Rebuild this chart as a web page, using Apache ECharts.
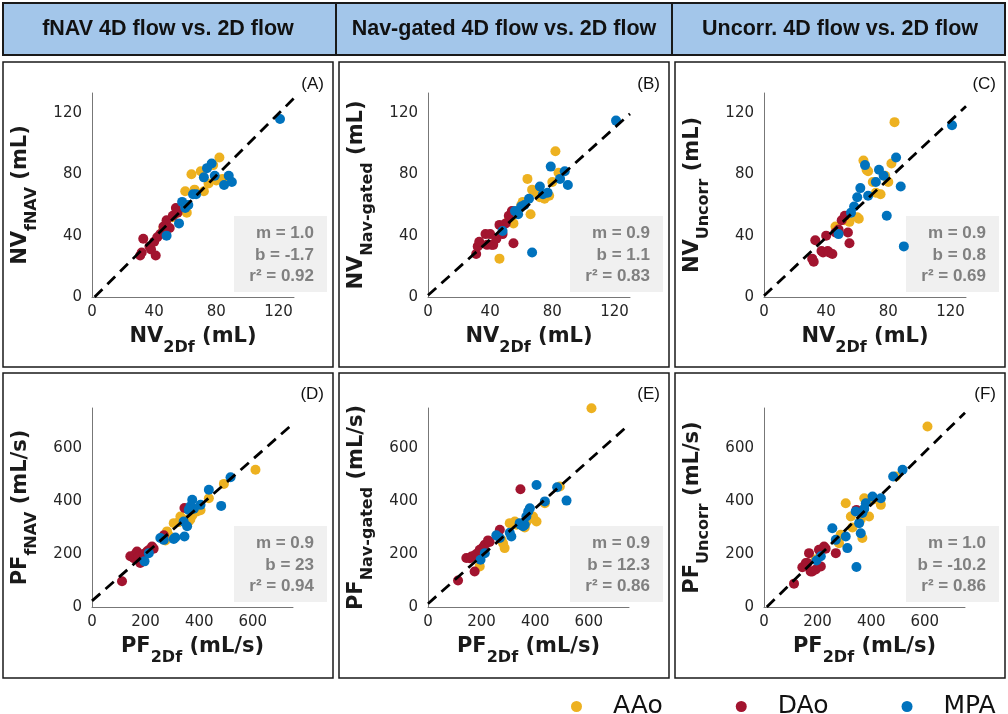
<!DOCTYPE html>
<html><head><meta charset="utf-8">
<script src="https://cdn.jsdelivr.net/npm/echarts@6/dist/echarts.min.js"></script>
<style>html,body{margin:0;padding:0;background:#fff}#c{width:1008px;height:714px}</style>
</head><body><div id="c"></div>
<script>
// ---------- labels ----------
const groups = ['AAo', 'DAo', 'MPA'];
const groupColors = ['#EDB120', '#A2142F', '#0072BD'];
const headerTitles = ['fNAV 4D flow vs. 2D flow', 'Nav-gated 4D flow vs. 2D flow', 'Uncorr. 4D flow vs. 2D flow'];
const panelLetters = ['(A)', '(B)', '(C)', '(D)', '(E)', '(F)'];
const yNameMain = ['NV', 'NV', 'NV', 'PF', 'PF', 'PF'];
const yNameSub = ['fNAV', 'Nav-gated', 'Uncorr', 'fNAV', 'Nav-gated', 'Uncorr'];
const xNameMain = ['NV', 'NV', 'NV', 'PF', 'PF', 'PF'];
const xNameSub = ['2Df', '2Df', '2Df', '2Df', '2Df', '2Df'];
const unitNames = ['(mL)', '(mL)', '(mL)', '(mL/s)', '(mL/s)', '(mL/s)'];
const axisMax = [130, 130, 130, 750, 750, 750];
const axisMaxY = [133, 133, 133, 750, 750, 750];
const tickStep = [40, 40, 40, 200, 200, 200];

// ---------- regression stats ----------
const statM = ['1.0', '0.9', '0.9', '0.9', '0.9', '1.0'];
const statB = ['-1.7', '1.1', '0.8', '23', '12.3', '-10.2'];
const statR2 = ['0.92', '0.83', '0.69', '0.94', '0.86', '0.86'];
const lineSlope = [1.01, 0.91, 0.95, 0.89, 0.90, 0.99];
const lineIntercept = [-1.7, 1.1, 0.8, 23, 12.3, -10.2];

// ---------- net volume (mL) ----------
const nv2Df_AAo = [46, 52, 55, 60, 61, 64, 66, 67, 70, 72, 75, 78, 80, 82, 84];
const nvFnav_AAo = [45, 52, 55, 69, 55, 80, 70, 68, 82, 69, 74, 86, 76, 91, 77];
const nvNav_AAo = [25, 50, 48, 60, 62, 77, 54, 70, 68, 65, 64, 66, 75, 95, 81];
const nvUnc_AAo = [46, 50, 49, 52, 51, 89, 83, 82, 75, 68, 67, 79, 75, 87, 114];

const nv2Df_DAo = [31, 32, 33, 37, 38, 40, 41, 42, 44, 46, 48, 50, 52, 54, 55];
const nvFnav_DAo = [27, 29, 38, 33, 31, 36, 27, 39, 41, 46, 50, 45, 53, 58, 55];
const nvNav_DAo = [28, 33, 36, 41, 34, 41, 34, 34, 38, 47, 41, 48, 53, 56, 35];
const nvUnc_DAo = [25, 23, 37, 30, 29, 40, 30, 29, 28, 42, 44, 50, 53, 42, 35];

const nv2Df_MPA = [48, 56, 58, 60, 62, 65, 67, 72, 74, 77, 79, 85, 88, 90, 121];
const nvFnav_MPA = [40, 48, 62, 58, 60, 67, 67, 78, 84, 87, 79, 73, 79, 75, 116];
const nvNav_MPA = [43, 56, 54, 59, 60, 64, 29, 72, 67, 68, 85, 77, 82, 73, 115];
const nvUnc_MPA = [41, 55, 59, 65, 71, 86, 66, 75, 83, 79, 53, 91, 72, 33, 112];

// ---------- peak flow (mL/s) ----------
const pf2Df_AAo = [193, 274, 280, 286, 305, 324, 330, 355, 361, 367, 374, 392, 405, 436, 492, 610];
const pfFnav_AAo = [180, 251, 285, 270, 316, 320, 341, 330, 322, 330, 345, 360, 365, 410, 464, 517];
const pfNav_AAo = [153, 253, 240, 222, 316, 322, 310, 304, 300, 320, 330, 341, 322, 391, 454, 749];
const pfUnc_AAo = [180, 250, 240, 272, 391, 341, 300, 360, 330, 260, 410, 341, 404, 385, 492, 680];

const pf2Df_DAo = [112, 143, 156, 162, 168, 174, 180, 193, 205, 212, 224, 230, 268, 345];
const pfFnav_DAo = [97, 191, 184, 200, 209, 190, 166, 200, 209, 215, 228, 220, 270, 373];
const pfNav_DAo = [100, 185, 184, 190, 191, 134, 200, 216, 225, 235, 251, 245, 291, 444];
const pfUnc_DAo = [88, 150, 166, 166, 203, 134, 134, 141, 216, 153, 228, 220, 203, 366];

const pf2Df_MPA = [196, 212, 255, 268, 305, 311, 342, 345, 355, 361, 367, 374, 380, 405, 436, 482, 517];
const pfFnav_MPA = [172, 203, 260, 253, 256, 262, 322, 266, 304, 366, 380, 404, 370, 385, 442, 381, 489];
const pfNav_MPA = [178, 203, 270, 260, 280, 266, 316, 310, 304, 310, 341, 360, 372, 460, 398, 451, 401];
const pfUnc_MPA = [175, 191, 297, 253, 266, 222, 360, 151, 316, 278, 354, 370, 391, 416, 410, 492, 517];

const panelX = [
  [nv2Df_AAo, nv2Df_DAo, nv2Df_MPA], [nv2Df_AAo, nv2Df_DAo, nv2Df_MPA], [nv2Df_AAo, nv2Df_DAo, nv2Df_MPA],
  [pf2Df_AAo, pf2Df_DAo, pf2Df_MPA], [pf2Df_AAo, pf2Df_DAo, pf2Df_MPA], [pf2Df_AAo, pf2Df_DAo, pf2Df_MPA]
];
const panelY = [
  [nvFnav_AAo, nvFnav_DAo, nvFnav_MPA], [nvNav_AAo, nvNav_DAo, nvNav_MPA], [nvUnc_AAo, nvUnc_DAo, nvUnc_MPA],
  [pfFnav_AAo, pfFnav_DAo, pfFnav_MPA], [pfNav_AAo, pfNav_DAo, pfNav_MPA], [pfUnc_AAo, pfUnc_DAo, pfUnc_MPA]
];

// ---------- layout ----------
const COL_STEP = 336, ROW_STEP = 310;
const labelFont = 'DejaVu Sans';
const helv = 'Liberation Sans';

const grids = [], xAxes = [], yAxes = [], series = [], graphics = [];

const nameRich = {
  a: { fontSize: 21, fontWeight: 'bold', fontFamily: labelFont, color: '#1a1a1a' },
  s: { fontSize: 16, fontWeight: 'bold', fontFamily: labelFont, color: '#1a1a1a', padding: [22, 0, 0, 0] }
};

for (let p = 0; p < 6; p++) {
  const col = p % 3, row = Math.floor(p / 3);
  const dx = col * COL_STEP, dy = row * ROW_STEP;
  grids.push({ left: 92 + dx, top: row === 0 ? 93 : 408, width: row === 0 ? 202 : 201, height: row === 0 ? 204 : 199 });
  const axisCommon = {
    type: 'value', min: 0, interval: tickStep[p], gridIndex: p,
    axisLine: { show: true, onZero: false, lineStyle: { color: '#777', width: 1 } },
    axisTick: { show: false },
    splitLine: { show: false },
    axisLabel: { fontSize: 15, fontFamily: labelFont, color: '#262626', showMaxLabel: false },
    nameLocation: 'middle', nameTextStyle: { rich: nameRich }
  };
  xAxes.push(Object.assign({}, axisCommon, {
    max: axisMax[p],
    axisLabel: Object.assign({}, axisCommon.axisLabel, { margin: 8 }),
    name: '{a|' + xNameMain[p] + '}{s|' + xNameSub[p] + '}{a| ' + unitNames[p] + '}',
    nameGap: 21
  }));
  yAxes.push(Object.assign({}, axisCommon, {
    max: axisMaxY[p],
    axisLabel: Object.assign({}, axisCommon.axisLabel, { margin: 10 }),
    name: '{a|' + yNameMain[p] + '}{s|' + yNameSub[p] + '}{a| ' + unitNames[p] + '}',
    nameGap: 52
  }));
  for (let g = 0; g < 3; g++) {
    const xs = panelX[p][g], ys = panelY[p][g];
    series.push({
      type: 'scatter', name: groups[g], xAxisIndex: p, yAxisIndex: p,
      data: xs.map((x, i) => [x, ys[i]]),
      symbolSize: 10, itemStyle: { color: groupColors[g], opacity: 1 }, z: 2 + g
    });
  }
  const m = lineSlope[p], b = lineIntercept[p];
  const x0 = Math.max(0, -b / m), x1 = axisMax[p];
  series.push({
    type: 'line', xAxisIndex: p, yAxisIndex: p, silent: true, clip: true,
    data: [[x0, m * x0 + b], [x1, m * x1 + b]],
    symbol: 'none', lineStyle: { color: '#000', width: 2.8, type: [11, 7] }, z: 10
  });

  // panel frame
  graphics.push({ type: 'rect', shape: { x: 3 + dx, y: row === 0 ? 62 : 373, width: 330, height: 305 },
    style: { fill: 'none', stroke: '#1a1a1a', lineWidth: 1.5 }, z: 1 });
  // panel letter
  graphics.push({ type: 'text', x: 324 + dx, y: 84 + dy,
    style: { text: panelLetters[p], fontSize: 17, fontFamily: helv, fill: '#111', textAlign: 'right', textVerticalAlign: 'middle' } });
  // stats box
  graphics.push({ type: 'rect', shape: { x: 234 + dx, y: 216 + dy, width: 93, height: 76 },
    style: { fill: '#f0f0f0' }, z: 1 });
  graphics.push({ type: 'text', x: 314 + dx, y: 255 + dy, z: 2,
    style: { text: 'm = ' + statM[p] + '\nb = ' + statB[p] + '\nr\u00B2 = ' + statR2[p],
      fontSize: 17, fontWeight: 'bold', fontFamily: helv, fill: '#808080', lineHeight: 21.5,
      textAlign: 'right', textVerticalAlign: 'middle' } });
}

// header
graphics.push({ type: 'rect', shape: { x: 3, y: 3, width: 1002, height: 52 },
  style: { fill: '#a3c6ea', stroke: '#1a1a1a', lineWidth: 2 }, z: 0 });
[336, 672].forEach(xv => graphics.push({ type: 'line', shape: { x1: xv, y1: 3, x2: xv, y2: 55 },
  style: { stroke: '#1a1a1a', lineWidth: 2 }, z: 1 }));
headerTitles.forEach((t, i) => graphics.push({ type: 'text', x: 168 + i * COL_STEP, y: 29, z: 2,
  style: { text: t, fontSize: 21.5, fontWeight: 'bold', fontFamily: helv, fill: '#111',
    textAlign: 'center', textVerticalAlign: 'middle' } }));

const option = {
  animation: false,
  backgroundColor: '#fff',
  grid: grids, xAxis: xAxes, yAxis: yAxes, series: series,
  legend: {
    data: groups, left: 566, top: 689, icon: 'circle', itemWidth: 11, itemHeight: 11, itemGap: 73,
    formatter: name => '{t|' + name + '}',
    textStyle: { rich: { t: { fontSize: 25, fontFamily: labelFont, color: '#111', padding: [0, 0, 0, 26] } } }
  },
  graphic: graphics
};
const chart = echarts.init(document.getElementById('c'), null, { renderer: 'canvas' });
chart.setOption(option);
</script></body></html>
